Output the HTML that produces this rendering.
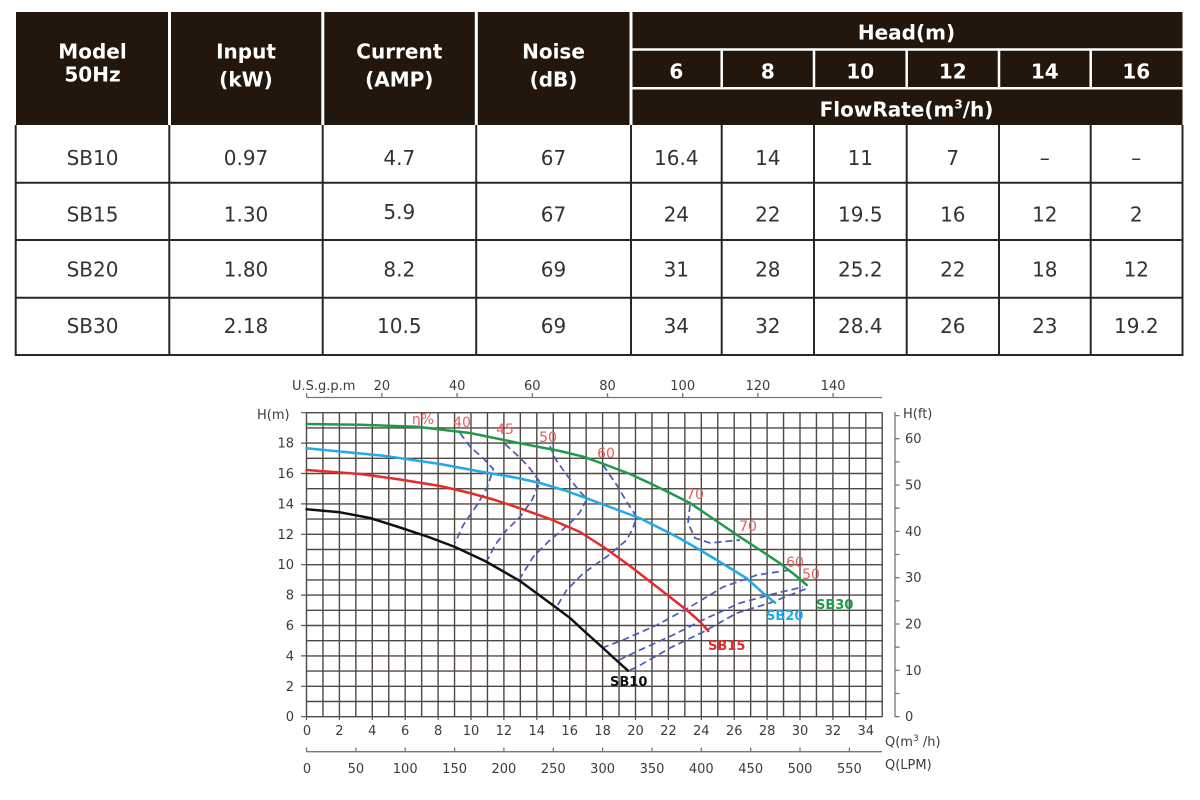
<!DOCTYPE html>
<html><head><meta charset="utf-8">
<style>
html,body{margin:0;padding:0;background:#fff;}
svg{display:block;}
.h{font-family:"DejaVu Sans","Liberation Sans",sans-serif;font-weight:bold;font-size:20px;fill:#fff;text-anchor:middle;}
.d{font-family:"DejaVu Sans","Liberation Sans",sans-serif;font-size:20px;fill:#333;text-anchor:middle;}
.t{font-family:"DejaVu Sans","Liberation Sans",sans-serif;font-size:13px;fill:#3c3c3c;}
.r{font-family:"DejaVu Sans","Liberation Sans",sans-serif;font-size:14px;fill:#e65c5c;text-anchor:middle;}
.lb{font-family:"DejaVu Sans","Liberation Sans",sans-serif;font-size:13px;font-weight:bold;}
</style></head>
<body>
<svg width="1200" height="800" viewBox="0 0 1200 800" xmlns="http://www.w3.org/2000/svg">
<!-- TABLE HEADER -->
<rect x="16" y="12" width="1166.5" height="113" fill="#22160d"/>
<g stroke="#fff" stroke-width="3">
<line x1="169.5" y1="12" x2="169.5" y2="125"/>
<line x1="322.8" y1="12" x2="322.8" y2="125"/>
<line x1="476.3" y1="12" x2="476.3" y2="125"/>
<line x1="631" y1="12" x2="631" y2="125"/>
</g>
<g stroke="#fff" stroke-width="2.5">
<line x1="631" y1="49.5" x2="1183" y2="49.5"/>
<line x1="631" y1="88.3" x2="1183" y2="88.3"/>
<line x1="721.7" y1="49.5" x2="721.7" y2="88.3"/>
<line x1="814" y1="49.5" x2="814" y2="88.3"/>
<line x1="906.7" y1="49.5" x2="906.7" y2="88.3"/>
<line x1="999" y1="49.5" x2="999" y2="88.3"/>
<line x1="1090.7" y1="49.5" x2="1090.7" y2="88.3"/>
</g>
<text class="h" x="92.5" y="58.3">Model</text>
<text class="h" x="92.5" y="81.7">50Hz</text>
<text class="h" x="246" y="58.3">Input</text>
<text class="h" x="246" y="86.7">(kW)</text>
<text class="h" x="399.3" y="58.3">Current</text>
<text class="h" x="399.3" y="86.7">(AMP)</text>
<text class="h" x="553.5" y="58.3">Noise</text>
<text class="h" x="553.5" y="86.7">(dB)</text>
<text class="h" x="906.5" y="39.3">Head(m)</text>
<text class="h" x="676.3" y="78.3">6</text>
<text class="h" x="767.8" y="78.3">8</text>
<text class="h" x="860.3" y="78.3">10</text>
<text class="h" x="952.8" y="78.3">12</text>
<text class="h" x="1044.8" y="78.3">14</text>
<text class="h" x="1136.3" y="78.3">16</text>
<text class="h" x="906.5" y="116.7">FlowRate(m<tspan font-size="12" dy="-8">3</tspan><tspan dy="8">/h)</tspan></text>

<!-- TABLE BODY -->
<g stroke="#2b2623" stroke-width="2">
<line x1="15.7" y1="125" x2="15.7" y2="356"/>
<line x1="169.3" y1="125" x2="169.3" y2="356"/>
<line x1="322.7" y1="125" x2="322.7" y2="356"/>
<line x1="476.2" y1="125" x2="476.2" y2="356"/>
<line x1="631" y1="125" x2="631" y2="356"/>
<line x1="721.7" y1="125" x2="721.7" y2="356"/>
<line x1="814" y1="125" x2="814" y2="356"/>
<line x1="906.7" y1="125" x2="906.7" y2="356"/>
<line x1="999" y1="125" x2="999" y2="356"/>
<line x1="1090.7" y1="125" x2="1090.7" y2="356"/>
<line x1="1182.5" y1="125" x2="1182.5" y2="356"/>
<line x1="15" y1="182.7" x2="1183.5" y2="182.7"/>
<line x1="15" y1="240" x2="1183.5" y2="240"/>
<line x1="15" y1="297.7" x2="1183.5" y2="297.7"/>
<line x1="15" y1="355" x2="1183.5" y2="355"/>
</g>
<g class="d">
<text class="d" x="92.5" y="165">SB10</text><text class="d" x="246" y="165">0.97</text><text class="d" x="399.3" y="165">4.7</text><text class="d" x="553.5" y="165">67</text>
<text class="d" x="676.3" y="165">16.4</text><text class="d" x="767.8" y="165">14</text><text class="d" x="860.3" y="165">11</text><text class="d" x="952.8" y="165">7</text><text class="d" x="1044.8" y="165">–</text><text class="d" x="1136.3" y="165">–</text>
<text class="d" x="92.5" y="221.5">SB15</text><text class="d" x="246" y="221.5">1.30</text><text class="d" x="399.3" y="219">5.9</text><text class="d" x="553.5" y="221.5">67</text>
<text class="d" x="676.3" y="221.5">24</text><text class="d" x="767.8" y="221.5">22</text><text class="d" x="860.3" y="221.5">19.5</text><text class="d" x="952.8" y="221.5">16</text><text class="d" x="1044.8" y="221.5">12</text><text class="d" x="1136.3" y="221.5">2</text>
<text class="d" x="92.5" y="276.5">SB20</text><text class="d" x="246" y="276.5">1.80</text><text class="d" x="399.3" y="276.5">8.2</text><text class="d" x="553.5" y="276.5">69</text>
<text class="d" x="676.3" y="276.5">31</text><text class="d" x="767.8" y="276.5">28</text><text class="d" x="860.3" y="276.5">25.2</text><text class="d" x="952.8" y="276.5">22</text><text class="d" x="1044.8" y="276.5">18</text><text class="d" x="1136.3" y="276.5">12</text>
<text class="d" x="92.5" y="333">SB30</text><text class="d" x="246" y="333">2.18</text><text class="d" x="399.3" y="333">10.5</text><text class="d" x="553.5" y="333">69</text>
<text class="d" x="676.3" y="333">34</text><text class="d" x="767.8" y="333">32</text><text class="d" x="860.3" y="333">28.4</text><text class="d" x="952.8" y="333">26</text><text class="d" x="1044.8" y="333">23</text><text class="d" x="1136.3" y="333">19.2</text>
</g>

<!-- CHART GRID -->
<path fill="none" stroke="#4f4844" stroke-width="1.4" d="
M306.5 412.7V716.7M322.95 412.7V716.7M339.4 412.7V716.7M355.85 412.7V716.7M372.3 412.7V716.7M388.75 412.7V716.7M405.2 412.7V716.7M421.65 412.7V716.7M438.1 412.7V716.7M454.55 412.7V716.7M471 412.7V716.7M487.45 412.7V716.7M503.9 412.7V716.7M520.35 412.7V716.7M536.8 412.7V716.7M553.25 412.7V716.7M569.7 412.7V716.7M586.15 412.7V716.7M602.6 412.7V716.7M619.05 412.7V716.7M635.5 412.7V716.7M651.95 412.7V716.7M668.4 412.7V716.7M684.85 412.7V716.7M701.3 412.7V716.7M717.75 412.7V716.7M734.2 412.7V716.7M750.65 412.7V716.7M767.1 412.7V716.7M783.55 412.7V716.7M800 412.7V716.7M816.45 412.7V716.7M832.9 412.7V716.7M849.35 412.7V716.7M865.8 412.7V716.7M882.25 412.7V716.7
M306.5 716.7H882.25M306.5 701.5H882.25M306.5 686.3H882.25M306.5 671.1H882.25M306.5 655.9H882.25M306.5 640.7H882.25M306.5 625.5H882.25M306.5 610.3H882.25M306.5 595.1H882.25M306.5 579.9H882.25M306.5 564.7H882.25M306.5 549.5H882.25M306.5 534.3H882.25M306.5 519.1H882.25M306.5 503.9H882.25M306.5 488.7H882.25M306.5 473.5H882.25M306.5 458.3H882.25M306.5 443.1H882.25M306.5 427.9H882.25M306.5 412.7H882.25"/>

<!-- LEFT AXIS -->
<g stroke="#555" stroke-width="1.2">
<path d="M301 716.7H306.5M301 686.3H306.5M301 655.9H306.5M301 625.5H306.5M301 595.1H306.5M301 564.7H306.5M301 534.3H306.5M301 503.9H306.5M301 473.5H306.5M301 443.1H306.5M301 412.7H306.5"/>
</g>
<g class="t" text-anchor="end">
<text x="294" y="721.2">0</text><text x="294" y="690.8">2</text><text x="294" y="660.4">4</text><text x="294" y="630">6</text><text x="294" y="599.6">8</text><text x="294" y="569.2">10</text><text x="294" y="538.8">12</text><text x="294" y="508.4">14</text><text x="294" y="478">16</text><text x="294" y="447.6">18</text>
</g>
<text class="t" x="257" y="419" font-size="14">H(m)</text>

<!-- TOP GPM AXIS -->
<path fill="none" stroke="#777" stroke-width="1.3" d="M306.7 397.5H882M306.7 397.5V393M381.9 397.5V393M457.1 397.5V393M532.3 397.5V393M607.5 397.5V393M682.7 397.5V393M757.9 397.5V393M833.1 397.5V393"/>
<g class="t" text-anchor="middle">
<text x="381.9" y="390">20</text><text x="457.1" y="390">40</text><text x="532.3" y="390">60</text><text x="607.5" y="390">80</text><text x="682.7" y="390">100</text><text x="757.9" y="390">120</text><text x="833.1" y="390">140</text>
</g>
<text class="t" x="292" y="390">U.S.g.p.m</text>

<!-- RIGHT FT AXIS -->
<path fill="none" stroke="#777" stroke-width="1.3" d="M895 412V717M895 716.7H899.5M895 693.5H899.5M895 670.4H899.5M895 647.2H899.5M895 624H899.5M895 600.9H899.5M895 577.7H899.5M895 554.5H899.5M895 531.4H899.5M895 508.2H899.5M895 485H899.5M895 461.9H899.5M895 438.7H899.5M895 415.6H899.5"/>
<g class="t">
<text x="905" y="721.2">0</text><text x="905" y="674.9">10</text><text x="905" y="628.5">20</text><text x="905" y="582.2">30</text><text x="905" y="535.9">40</text><text x="905" y="489.5">50</text><text x="905" y="443.2">60</text>
</g>
<text class="t" x="903" y="418" font-size="14">H(ft)</text>

<!-- BOTTOM Q AXIS -->
<path fill="none" stroke="#555" stroke-width="1.2" d="M306.5 716.7V720M339.4 716.7V720M372.3 716.7V720M405.2 716.7V720M438.1 716.7V720M471 716.7V720M503.9 716.7V720M536.8 716.7V720M569.7 716.7V720M602.6 716.7V720M635.5 716.7V720M668.4 716.7V720M701.3 716.7V720M734.2 716.7V720M767.1 716.7V720M800 716.7V720M832.9 716.7V720M865.8 716.7V720"/>
<g class="t" text-anchor="middle">
<text x="307" y="735">0</text><text x="339.4" y="735">2</text><text x="372.3" y="735">4</text><text x="405.2" y="735">6</text><text x="438.1" y="735">8</text><text x="471" y="735">10</text><text x="503.9" y="735">12</text><text x="536.8" y="735">14</text><text x="569.7" y="735">16</text><text x="602.6" y="735">18</text><text x="635.5" y="735">20</text><text x="668.4" y="735">22</text><text x="701.3" y="735">24</text><text x="734.2" y="735">26</text><text x="767.1" y="735">28</text><text x="800" y="735">30</text><text x="832.9" y="735">32</text><text x="865.8" y="735">34</text>
</g>
<text class="t" x="885" y="746">Q(m<tspan font-size="9" dy="-5">3</tspan><tspan dy="5"> /h)</tspan></text>

<!-- LPM AXIS -->
<path fill="none" stroke="#777" stroke-width="1.3" d="M306.5 751.7H882M306.5 751.7V747.5M355.9 751.7V747.5M405.2 751.7V747.5M454.6 751.7V747.5M503.9 751.7V747.5M553.3 751.7V747.5M602.6 751.7V747.5M652 751.7V747.5M701.3 751.7V747.5M750.7 751.7V747.5M800 751.7V747.5M849.4 751.7V747.5"/>
<g class="t" text-anchor="middle">
<text x="307" y="773">0</text><text x="355.9" y="773">50</text><text x="405.2" y="773">100</text><text x="454.6" y="773">150</text><text x="503.9" y="773">200</text><text x="553.3" y="773">250</text><text x="602.6" y="773">300</text><text x="652" y="773">350</text><text x="701.3" y="773">400</text><text x="750.7" y="773">450</text><text x="800" y="773">500</text><text x="849.4" y="773">550</text>
</g>
<text class="t" x="885" y="769">Q(LPM)</text>

<!-- EFFICIENCY DASHED LINES -->
<g fill="none" stroke="#4a58b2" stroke-width="1.7" stroke-dasharray="7 4">
<path d="M460 433L470 446.7L483.3 458.3L493.3 469L487 488L477 505L463.3 525L455 543"/>
<path d="M505 444L517 455L528 466L540 482L532 500L520 517L506.7 530L495 545L488 559"/>
<path d="M550 446L555 458.3L566.7 475L580 491.7L587 499L580 512L573.3 520L560 532L550 540L533.3 556.7L520 578.3"/>
<path d="M603 465L616.7 485L626.7 501.7L636.7 517L633 528L626.7 540L606.7 556.7L583.3 573.3L566.7 590L556.7 606.7"/>
<path d="M690 505L688 523L695 538L710 543L740 540"/>
<path d="M602 648L623 640L657 625L690 607L723 587L757 575L790 570"/>
<path d="M619 660L640 650L673 635L707 618L740 603L777 593L803 587"/>
<path d="M630 670L637 667L670 648L703 632L737 613L770 603L808 588"/>
</g>

<!-- PUMP CURVES -->
<g fill="none" stroke-width="2.5" stroke-linejoin="round" stroke-linecap="round">
<polyline stroke="#1f9a4a" points="306.5,424 360,424.8 416.7,426.7 470,433 520,443.3 560,451 583.3,456.7 605,464.5 630,474 650,483.3 670,493 690,503 715,520 740,537 760,550 780,563.3 795,575 806.7,585"/>
<polyline stroke="#22a9e6" points="306.5,448.3 383.3,455.7 440,464 480,471.5 515,477.5 540,483 565,490.5 586.7,498.3 610,507 640,518.3 660,528.3 680,538.5 700,550 720,562 746.7,578.3 763.3,593.3 775,602.7"/>
<polyline stroke="#e52b2b" points="306.5,470 360,474 400,479.5 440,486 470,493 495,500 520,508.3 550,519 580,532 605,548 630,566 656.7,586.7 686.7,610 700,621.7 708.3,631"/>
<polyline stroke="#111" points="306.5,509.3 340,512.3 370,518 400,527.5 430,537.5 455,547 485,561 520,581 555,606.7 570,618 583,630 603,648 615,659 628,670.7"/>
</g>

<!-- LABELS -->
<text class="r" x="423" y="424">η%</text>
<text class="r" x="462" y="427">40</text>
<text class="r" x="505" y="434">45</text>
<text class="r" x="548" y="442">50</text>
<text class="r" x="606" y="458">60</text>
<text class="r" x="695" y="499">70</text>
<text class="r" x="748" y="531">70</text>
<text class="r" x="795" y="567">60</text>
<text class="r" x="811" y="579">50</text>
<text class="lb" x="610" y="686" fill="#111">SB10</text>
<text class="lb" x="708" y="650" fill="#e52b2b">SB15</text>
<text class="lb" x="766" y="620" fill="#22a9e6">SB20</text>
<text class="lb" x="816" y="609" fill="#1f9a4a">SB30</text>
</svg>
</body></html>
